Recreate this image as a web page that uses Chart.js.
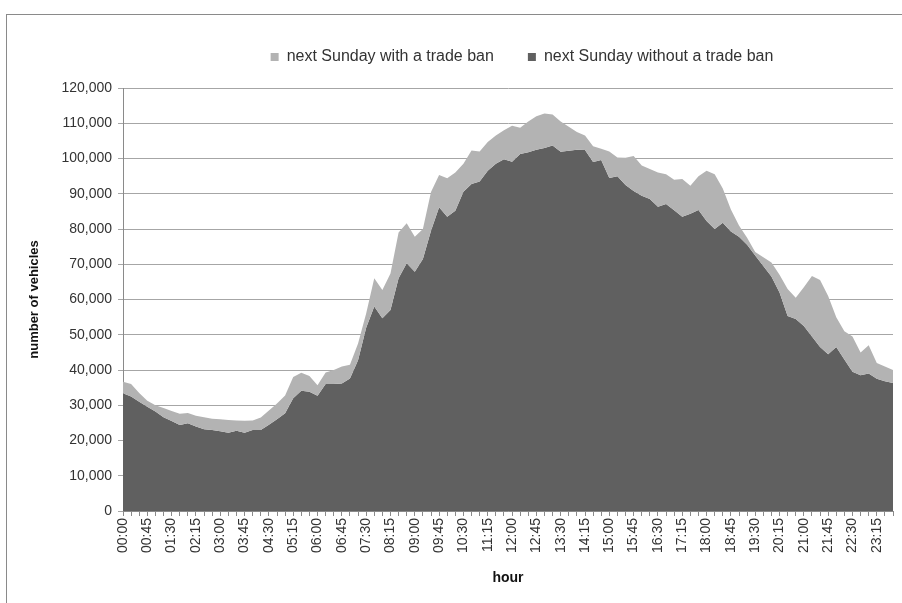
<!DOCTYPE html>
<html>
<head>
<meta charset="utf-8">
<script src="https://cdn.jsdelivr.net/npm/chart.js@4"></script>
<style>
  html, body { margin: 0; padding: 0; background: #fff; }
  #frame { position: absolute; left: 6px; top: 14px; width: 896px; height: 589px;
           border-top: 1px solid #8a8a8a; border-left: 1px solid #8a8a8a; }
  canvas { display: block; }
</style>
</head>
<body>
<div id="frame"><canvas id="trafficChart" width="895" height="588"></canvas></div>
<script>
const light = '#b3b3b3';
const dark = '#606060';

const hours = [
  '00:00','00:15','00:30','00:45','01:00','01:15','01:30','01:45','02:00','02:15','02:30','02:45',
  '03:00','03:15','03:30','03:45','04:00','04:15','04:30','04:45','05:00','05:15','05:30','05:45',
  '06:00','06:15','06:30','06:45','07:00','07:15','07:30','07:45','08:00','08:15','08:30','08:45',
  '09:00','09:15','09:30','09:45','10:00','10:15','10:30','10:45','11:00','11:15','11:30','11:45',
  '12:00','12:15','12:30','12:45','13:00','13:15','13:30','13:45','14:00','14:15','14:30','14:45',
  '15:00','15:15','15:30','15:45','16:00','16:15','16:30','16:45','17:00','17:15','17:30','17:45',
  '18:00','18:15','18:30','18:45','19:00','19:15','19:30','19:45','20:00','20:15','20:30','20:45',
  '21:00','21:15','21:30','21:45','22:00','22:15','22:30','22:45','23:00','23:15','23:30','23:45'
];

// next Sunday with a trade ban
const withBan = [
  36700, 36000, 33500, 31300, 30000, 29200, 28400, 27600, 27800, 27000, 26600, 26200,
  26000, 25800, 25700, 25600, 25700, 26500, 28500, 30500, 32800, 38000, 39200, 38300,
  35700, 39300, 40000, 41000, 41500, 47500, 56000, 66000, 62700, 67400, 79000, 81600,
  77800, 80000, 90500, 95300, 94400, 96000, 98500, 102300, 102000, 104700, 106500, 108000,
  109300, 108700, 110500, 112000, 112800, 112500, 110500, 109000, 107500, 106500, 103500, 102800,
  102000, 100300, 100200, 100700, 98000, 97000, 96000, 95500, 94000, 94200, 92300, 95000,
  96500, 95500, 91500, 85500, 81000, 77500, 73500, 72000, 70500, 67000, 63000, 60500,
  63500, 66700, 65500, 61000, 55000, 51000, 49500, 45000, 47000, 42000, 41000, 40000
];

// next Sunday without a trade ban
const withoutBan = [
  33400, 32500, 31000, 29600, 28200, 26600, 25500, 24400, 24900, 24000, 23200, 23000,
  22600, 22200, 22800, 22200, 23000, 23000, 24500, 26000, 27700, 32000, 34100, 33800,
  32700, 36000, 36000, 36200, 37600, 42800, 52000, 58000, 54700, 57000, 66000, 70300,
  67900, 71500, 79500, 86200, 83500, 85200, 90600, 92800, 93500, 96500, 98500, 99800,
  99100, 101300, 101800, 102500, 103000, 103700, 101900, 102200, 102500, 102400, 99000, 99600,
  94500, 95000, 92500, 90800, 89400, 88500, 86300, 87100, 85300, 83500, 84300, 85400,
  82300, 80000, 81800, 79300, 77800, 75500, 72500, 69500, 66500, 62000, 55300, 54500,
  52500, 49500, 46500, 44500, 46500, 43000, 39500, 38500, 39000, 37500, 36800, 36300
];

const yMax = 120000;
const yStep = 10000;

// leave more room between legend and plot, and nudge the legend right, like the original
const legendGap = {
    id: 'legendGap',
    beforeLayout(chart) {
        const lg = chart.legend;
        if (lg && !lg._gapPatched) {
            const fit = lg.fit.bind(lg);
            lg.fit = function () { fit(); this.height += 13; };
            lg._gapPatched = true;
        }
    },
    afterLayout(chart) {
        const lg = chart.legend;
        if (lg) { lg.left += 14; lg.right += 14; }
    }
};

new Chart(document.getElementById('trafficChart'), {
    type: 'line',
    data: {
        labels: hours,
        datasets: [{
            label: 'next Sunday with a trade ban',
            data: withBan,
            backgroundColor: light,
            borderWidth: 0,
            pointRadius: 0,
            fill: '+1',
            tension: 0,
        }, {
            label: 'next Sunday without a trade ban',
            data: withoutBan,
            backgroundColor: dark,
            borderWidth: 0,
            pointRadius: 0,
            fill: 'origin',
            tension: 0,
        }]
    },
    plugins: [legendGap],
    options: {
        responsive: false,
        animation: false,
        devicePixelRatio: 1,
        layout: { padding: { top: 0, right: 9, left: 0, bottom: 0 } },
        plugins: {
            tooltip: { enabled: false },
            legend: {
                fullSize: false,
                labels: {
                    boxWidth: 8,
                    boxHeight: 8,
                    padding: 34,
                    color: '#333',
                    font: { family: 'Liberation Sans', size: 16 }
                }
            }
        },
        scales: {
            x: {
                offset: false,
                afterFit: s => { s.height = 92; s.paddingRight = 0; s.paddingLeft = 0; },
                grid: { display: true, drawOnChartArea: false, color: '#8a8a8a', tickLength: 5 },
                border: { color: '#8a8a8a' },
                ticks: {
                    autoSkip: false,
                    maxRotation: 90,
                    minRotation: 90,
                    padding: 2,
                    color: '#333',
                    font: { family: 'Liberation Sans', size: 14 },
                    callback: (v, i) => i % 3 === 0 ? hours[i] : ''
                },
                title: {
                    display: true,
                    text: 'hour',
                    color: '#111',
                    padding: { top: 0, bottom: 16 },
                    font: { family: 'Liberation Sans', size: 14, weight: 'bold' }
                }
            },
            y: {
                min: 0,
                max: yMax,
                afterFit: s => { s.width = 116; },
                grid: { color: '#a6a6a6', tickLength: 5 },
                border: { color: '#8a8a8a' },
                ticks: {
                    stepSize: yStep,
                    padding: 6,
                    color: '#333',
                    font: { family: 'Liberation Sans', size: 14 },
                    callback: v => v.toLocaleString('en-US')
                },
                title: {
                    display: true,
                    text: 'number of vehicles',
                    color: '#111',
                    padding: { top: 20, bottom: 0 },
                    font: { family: 'Liberation Sans', size: 13, weight: 'bold' }
                }
            }
        }
    }
});
</script>
</body>
</html>
